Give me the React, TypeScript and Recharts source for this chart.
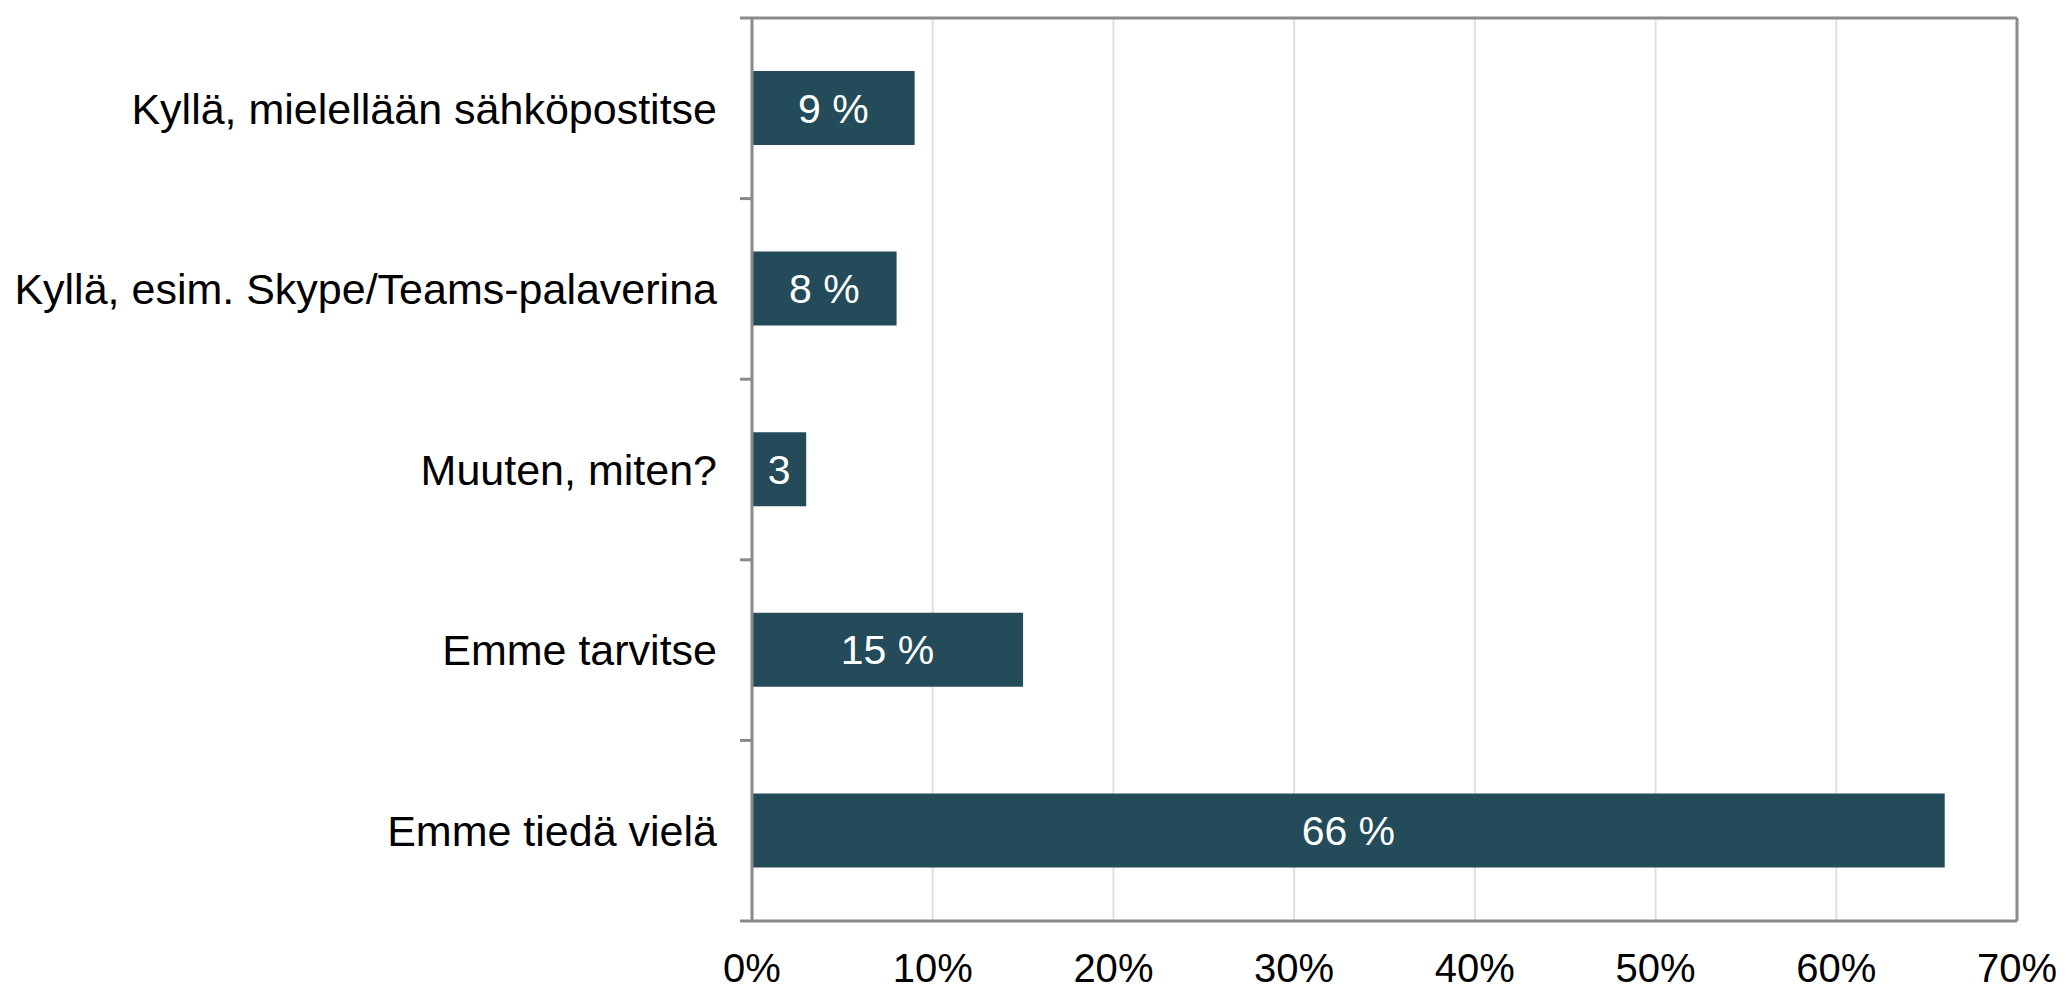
import { BarChart, Bar, XAxis, YAxis, CartesianGrid, LabelList, ReferenceLine } from "recharts";

const categories = [
  "Kyllä, mielellään sähköpostitse",
  "Kyllä, esim. Skype/Teams-palaverina",
  "Muuten, miten?",
  "Emme tarvitse",
  "Emme tiedä vielä",
];
const shares = [9, 8, 3, 15, 66];
const xTicks = [0, 10, 20, 30, 40, 50, 60, 70];

const data = categories.map((name, i) => ({ name, value: shares[i] }));

const W = 2070;
const H = 991;
const M = { top: 6, right: 53, bottom: 0, left: 0 };
const TOP_AXIS_H = 12;
const BOTTOM_AXIS_H = 70;
const Y_AXIS_W = 752;
const PLOT_H = H - M.top - M.bottom - TOP_AXIS_H - BOTTOM_AXIS_H;
const BAND = PLOT_H / categories.length;

const FONT = "'Liberation Sans', Arial, sans-serif";
const AXIS = "#8a8a8a";
const BAR = "#244b5a";

const CategoryTick = ({ x, y, index, payload }: any) => (
  <g>
    <line x1={x - 12} x2={x} y1={y - BAND / 2} y2={y - BAND / 2} stroke={AXIS} strokeWidth={3} />
    {index === categories.length - 1 && (
      <line x1={x - 12} x2={x} y1={y + BAND / 2} y2={y + BAND / 2} stroke={AXIS} strokeWidth={3} />
    )}
    <text x={x - 35} y={y} dy="0.355em" textAnchor="end" fontSize={43} fill="#000" fontFamily={FONT}>
      {payload.value}
    </text>
  </g>
);

const PercentTick = ({ x, y, payload }: any) => (
  <text x={x} y={y + 61} textAnchor="middle" fontSize={40} fill="#000" fontFamily={FONT}>
    {payload.value}%
  </text>
);

const App = () => {
  return (
    <div style={{ position: "absolute", left: 0, top: 0, background: "#fff" }}>
      <BarChart width={W} height={H} data={data} layout="vertical" margin={M}>
        <CartesianGrid horizontal={false} stroke="#e0e0e0" strokeWidth={2} />
        <XAxis
          type="number"
          domain={[0, 70]}
          ticks={xTicks}
          height={BOTTOM_AXIS_H}
          axisLine={{ stroke: AXIS, strokeWidth: 3 }}
          tickLine={false}
          tickSize={0}
          tickMargin={0}
          tick={<PercentTick />}
          interval={0}
        />
        <XAxis
          xAxisId="top"
          orientation="top"
          type="number"
          domain={[0, 70]}
          ticks={xTicks}
          height={TOP_AXIS_H}
          axisLine={{ stroke: AXIS, strokeWidth: 3 }}
          tickLine={{ stroke: AXIS, strokeWidth: 3 }}
          tickSize={12}
          tick={() => <g />}
          interval={0}
        />
        <YAxis
          type="category"
          dataKey="name"
          width={Y_AXIS_W}
          axisLine={{ stroke: AXIS, strokeWidth: 3 }}
          tickLine={false}
          tickSize={0}
          tickMargin={0}
          tick={<CategoryTick />}
          interval={0}
        />
        <ReferenceLine x={70} stroke={AXIS} strokeWidth={3} />
        <Bar dataKey="value" fill={BAR} barSize={74} isAnimationActive={false}>
          <LabelList
            dataKey="value"
            position="center"
            fill="#fff"
            fontSize={41}
            fontFamily={FONT}
            formatter={(v: any) => (v < 5 ? `${v}` : `${v} %`)}
          />
        </Bar>
      </BarChart>
    </div>
  );
};

export default App;
